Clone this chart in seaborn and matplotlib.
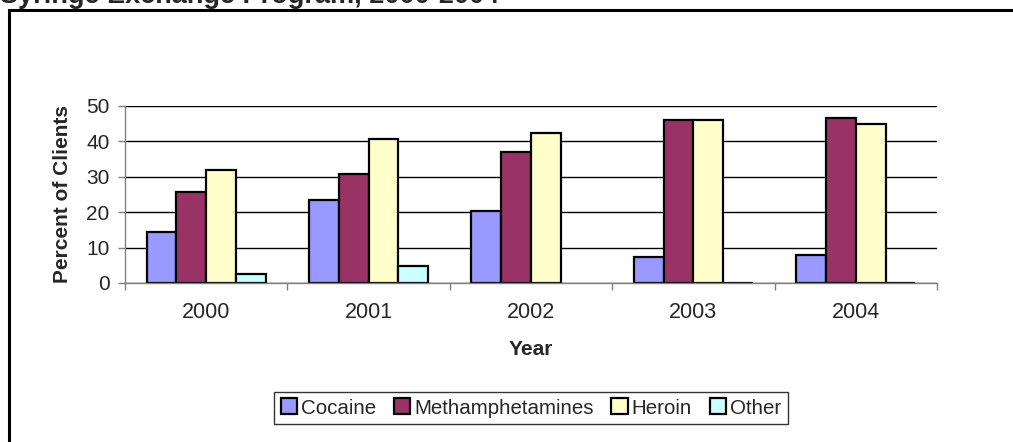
import numpy as np
import pandas as pd
import matplotlib
matplotlib.use("Agg")
import matplotlib.pyplot as plt
import seaborn as sns
from matplotlib.patches import Rectangle

# chart data
years = ["2000", "2001", "2002", "2003", "2004"]
drugs = ["Cocaine", "Methamphetamines", "Heroin", "Other"]
cocaine = [14.3, 23.4, 20.2, 7.4, 8.0]
meth = [25.6, 30.8, 37.0, 46.1, 46.6]
heroin = [32.0, 40.8, 42.4, 46.1, 45.0]
other = [2.6, 4.7, np.nan, 0.0, 0.0]
colors = ["#9999FF", "#993366", "#FFFFCC", "#CCFFFF"]

df = pd.DataFrame({"Year": years, "Cocaine": cocaine, "Methamphetamines": meth,
                   "Heroin": heroin, "Other": other})
long = df.melt(id_vars="Year", var_name="Drug", value_name="Percent").dropna()

sns.set_style("white")
plt.rcParams["font.family"] = ["Liberation Sans", "DejaVu Sans"]

W, H = 1013, 442
fig = plt.figure(figsize=(W / 100, H / 100), dpi=100)
ax = fig.add_axes([125 / W, 1 - 283 / H, 812 / W, 177 / H])

sns.barplot(data=long, x="Year", y="Percent", hue="Drug", order=years,
            hue_order=drugs, palette=colors, saturation=1, width=0.733,
            edgecolor="black", linewidth=1.6, errorbar=None, ax=ax, legend=True)

ax.set_xlim(-0.5, 4.5)
ax.set_ylim(0, 50)
ax.set_yticks(range(0, 51, 10))
ax.yaxis.grid(True, color="black", linewidth=1)
ax.set_axisbelow(True)
for s in ["top", "right"]:
    ax.spines[s].set_visible(False)
ax.spines["left"].set_color("#808080")
ax.spines["bottom"].set_color("#808080")
ax.spines["left"].set_linewidth(1)
ax.spines["bottom"].set_linewidth(1)

ax.tick_params(axis="y", left=True, length=5, color="#808080", width=1,
               labelsize=15, pad=6)
ax.set_xticks(np.arange(-0.5, 5, 1), minor=True)
ax.tick_params(axis="x", which="minor", bottom=True, length=5,
               color="#808080", width=1)
ax.tick_params(axis="x", which="major", length=0, labelsize=15.5, pad=14)

ax.set_ylabel("Percent of Clients", fontsize=15, fontweight="bold")
ax.yaxis.set_label_coords(-0.065, 0.5)
ax.set_xlabel("Year", fontsize=15, fontweight="bold")
ax.xaxis.set_label_coords(0.5, -0.32)

ax.get_legend().remove()
handles = [Rectangle((0, 0), 1, 1, facecolor=c, edgecolor="black", linewidth=1.6)
           for c in colors]
leg = fig.legend(handles, drugs, loc="center", bbox_to_anchor=(531 / W, 1 - 408 / H),
                 ncol=4, fontsize=14.8, frameon=True, fancybox=False,
                 handlelength=0.8, handleheight=0.8, handletextpad=0.2,
                 columnspacing=0.85, borderpad=0.3, borderaxespad=0)
leg.get_frame().set_edgecolor("black")
leg.get_frame().set_linewidth(1)

# outer chart border, cut off at the right and bottom
fig.add_artist(Rectangle((8.5 / W, -0.1), 1.2, 1 - 9.5 / H + 0.1,
                         transform=fig.transFigure, fill=False,
                         edgecolor="black", linewidth=2.2, clip_on=False))

# title, mostly cut off by the top edge (as in the reference)
fig.text(0.0, 1 - 3 / H, "Syringe Exchange Program, 2000-2004",
         fontsize=19.5, fontweight="bold", va="baseline", ha="left")

fig.savefig("out.png", dpi=100)
